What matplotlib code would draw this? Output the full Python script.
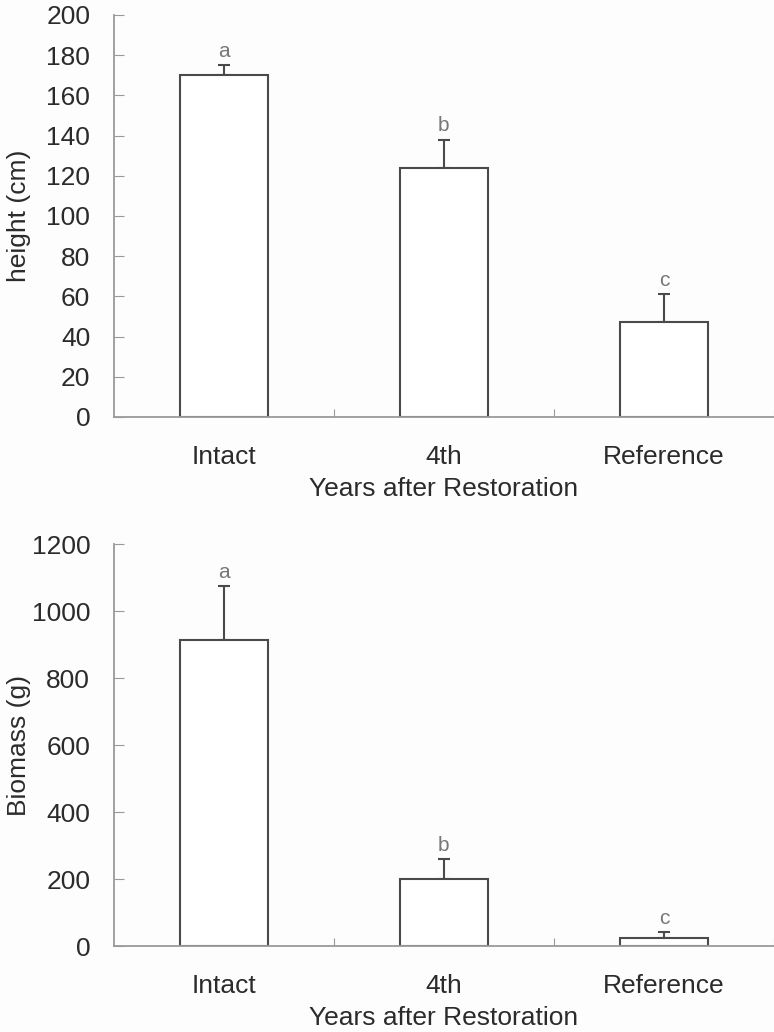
import matplotlib
matplotlib.use('Agg')
import matplotlib.pyplot as plt

plt.rcParams['font.family'] = ['Liberation Sans', 'DejaVu Sans']

groups = ['Intact', '4th', 'Reference']
height_mean = [170, 124, 47]
height_err = [5, 14, 14]
height_letters = ['a', 'b', 'c']
biomass_mean = [914, 199, 24]
biomass_err = [160, 60, 17]
biomass_letters = ['a', 'b', 'c']
xlabel = 'Years after Restoration'

fig = plt.figure(figsize=(7.74, 10.32), dpi=100, facecolor='#fdfdfd')

text_c = '#2b2b2b'
axis_c = '#9a9a9a'
bar_c = '#4a4a4a'


def panel(rect, means, errs, letters, ymax, ystep, ylabel):
    ax = fig.add_axes(rect)
    ax.set_facecolor('#fdfdfd')
    x = list(range(len(groups)))
    ax.bar(x, means, width=0.4, color='white', edgecolor=bar_c, linewidth=1.5, zorder=2)
    ax.errorbar(x, means, yerr=[[0] * len(errs), errs], fmt='none', ecolor=bar_c,
                elinewidth=1.5, capsize=4, capthick=1.5, zorder=1)
    for xi, m, e, l in zip(x, means, errs, letters):
        ax.annotate(l, (xi, m + e), xytext=(0, 10), textcoords='offset points',
                    ha='center', va='center', fontsize=15, color='#777777')
    ax.set_xlim(-0.5, 2.486)
    ax.set_ylim(0, ymax)
    ax.set_yticks(range(0, ymax + 1, ystep))
    ax.set_xticks([0.5, 1.5, 2.5])
    ax.set_xticklabels([])
    ax.set_xticks(x, minor=True)
    ax.set_xticklabels(groups, minor=True)
    ax.tick_params(axis='x', which='minor', length=0, pad=20, labelsize=19, labelcolor=text_c)
    ax.tick_params(axis='x', which='major', direction='in', length=6, color=axis_c)
    ax.tick_params(axis='y', direction='in', length=7, color=axis_c, pad=17,
                   labelsize=19, labelcolor=text_c)
    for s in ['top', 'right']:
        ax.spines[s].set_visible(False)
    for s in ['left', 'bottom']:
        ax.spines[s].set_color(axis_c)
        ax.spines[s].set_linewidth(1.3)
    ax.set_ylabel(ylabel, fontsize=19, color=text_c)
    ax.yaxis.set_label_coords(-0.125, 0.5)
    ax.set_xlabel(xlabel, fontsize=19, color=text_c)
    ax.xaxis.set_label_coords(0.5, -0.15)
    return ax


panel([0.147, 0.596, 0.853, 0.3895], height_mean, height_err, height_letters, 200, 20, 'height (cm)')
panel([0.147, 0.0833, 0.853, 0.3895], biomass_mean, biomass_err, biomass_letters, 1200, 200, 'Biomass (g)')

plt.savefig('out.png', dpi=100, facecolor=fig.get_facecolor())
